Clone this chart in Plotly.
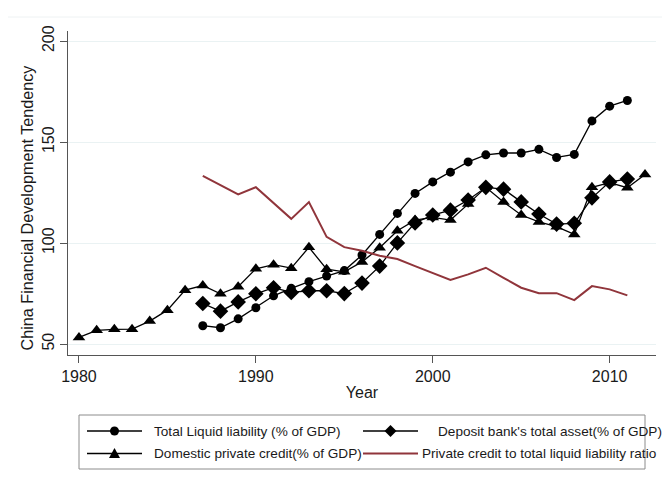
import plotly.graph_objects as go

# ---- data (China financial development indicators) ----
years_a = list(range(1987, 2012))          # 1987-2011
years_pc = list(range(1980, 2013))         # 1980-2012

liquid_liability = [59.1, 58.1, 62.5, 68.0, 73.9, 77.6, 80.9, 83.7, 86.4, 94.1,
                    104.3, 114.7, 124.6, 130.3, 135.1, 140.2, 143.7, 144.6, 144.6,
                    146.4, 142.4, 143.9, 160.5, 167.8, 170.6]
deposit_assets = [70.1, 66.3, 70.9, 74.9, 77.9, 75.6, 76.4, 76.4, 75.0, 80.2,
                  88.6, 100.1, 110.0, 113.9, 116.3, 121.3, 127.6, 126.7, 120.4,
                  114.4, 109.4, 109.8, 122.4, 130.3, 131.7]
private_credit = [53.3, 56.8, 57.3, 57.4, 61.4, 66.8, 76.7, 79.0, 74.9, 78.4,
                  87.3, 89.3, 87.6, 97.9, 87.1, 85.8, 90.7, 97.7, 106.1, 111.4,
                  112.7, 111.4, 119.3, 127.6, 120.4, 113.9, 110.5, 108.1, 104.3,
                  127.6, 129.9, 127.4, 134.0]
credit_ratio = [133.3, 128.7, 124.1, 127.7, 120.0, 112.0, 120.3, 103.1, 98.0, 96.2,
                93.7, 92.1, 88.6, 85.3, 81.8, 84.5, 87.8, 82.8, 77.9, 75.2, 75.2,
                71.8, 78.7, 77.1, 74.1]

labels = ["Total Liquid liability (% of GDP)",
          "Deposit bank's total asset(% of GDP)",
          "Domestic private credit(% of GDP)",
          "Private credit to total liquid liability ratio"]

x_ticks = [1980, 1990, 2000, 2010]
y_ticks = [50, 100, 150, 200]
y_title = "China Financial Development Tendency"

# ---- styling ----
W, H = 662, 487
ML, MR, MT, MB = 68, 6, 31, 132
BLACK = "#000000"
RED = "#90353B"
FONT = "Liberation Sans, Arial, sans-serif"

fig = go.Figure()

fig.add_trace(go.Scatter(x=years_a, y=liquid_liability, mode="lines+markers",
                         name=labels[0], line=dict(color=BLACK, width=1.3),
                         marker=dict(symbol="circle", size=9, color=BLACK)))
fig.add_trace(go.Scatter(x=years_a, y=deposit_assets, mode="lines+markers",
                         name=labels[1], line=dict(color=BLACK, width=1.3),
                         marker=dict(symbol="diamond", size=12, color=BLACK)))
fig.add_trace(go.Scatter(x=years_pc, y=private_credit, mode="lines+markers",
                         name=labels[2], line=dict(color=BLACK, width=1.3),
                         marker=dict(symbol="triangle-up", size=11, color=BLACK)))
fig.add_trace(go.Scatter(x=years_a, y=credit_ratio, mode="lines",
                         name=labels[3], line=dict(color=RED, width=2)))

# ---- hand-built legend box below the plot (pixel layout -> paper coords) ----
pw, ph = W - ML - MR, H - MT - MB


def px(xp):
    return (xp - ML) / pw


def py(yp):
    return (H - MB - yp) / ph


shapes = []
annotations = []

# faint outer rule along the top of the graph region
shapes.append(dict(type="line", xref="paper", yref="paper",
                   x0=px(8), x1=px(662), y0=py(17), y1=py(17),
                   line=dict(color="#EEF2F3", width=1)))

# legend frame
shapes.append(dict(type="rect", xref="paper", yref="paper",
                   x0=px(79), x1=px(645), y0=py(415), y1=py(469),
                   line=dict(color="#8C8C8C", width=1), fillcolor="rgba(0,0,0,0)"))

legend_items = [
    # (label, sample x0, sample x1, row y, text x, marker, colour, width)
    (labels[0], 87, 142, 431, 152, "circle", BLACK, 1.3),
    (labels[1], 363, 418, 431, 436, "diamond", BLACK, 1.3),
    (labels[2], 87, 142, 453.5, 152, "triangle", BLACK, 1.3),
    (labels[3], 363, 418, 453.5, 420, None, RED, 2),
]

for text, sx0, sx1, ry, tx, mk, col, lw in legend_items:
    shapes.append(dict(type="line", xref="paper", yref="paper",
                       x0=px(sx0), x1=px(sx1), y0=py(ry), y1=py(ry),
                       line=dict(color=col, width=lw)))
    cx = (sx0 + sx1) / 2
    common = dict(xref="paper", yref="paper", xsizemode="pixel", ysizemode="pixel",
                  xanchor=px(cx), yanchor=py(ry), fillcolor=BLACK,
                  line=dict(color=BLACK, width=0))
    if mk == "circle":
        shapes.append(dict(type="circle", x0=-4.5, x1=4.5, y0=-4.5, y1=4.5, **common))
    elif mk == "diamond":
        shapes.append(dict(type="path", path="M 0 6 L 6 0 L 0 -6 L -6 0 Z", **common))
    elif mk == "triangle":
        shapes.append(dict(type="path", path="M -5.5 -4.5 L 5.5 -4.5 L 0 5.5 Z", **common))
    annotations.append(dict(text=text, xref="paper", yref="paper",
                            x=px(tx), y=py(ry), xanchor="left", yanchor="middle",
                            showarrow=False,
                            font=dict(family=FONT, size=13.6, color="#1a1a1a")))

# y-axis title, set slightly below the plot's vertical centre
annotations.append(dict(text=y_title, xref="paper", yref="paper",
                        x=px(26.5), y=py(208), xanchor="center", yanchor="middle",
                        textangle=-90, showarrow=False,
                        font=dict(family=FONT, size=16.2, color="#1a1a1a")))

fig.update_layout(
    width=W, height=H,
    margin=dict(l=ML, r=MR, t=MT, b=MB, pad=0),
    paper_bgcolor="white", plot_bgcolor="white",
    showlegend=False,
    font=dict(family=FONT, size=16, color="#1a1a1a"),
    shapes=shapes, annotations=annotations,
    xaxis=dict(range=[1979.38, 2012.62], tickvals=x_ticks, ticks="outside",
               ticklen=7, tickcolor="#555555", showline=True, linecolor="#555555",
               linewidth=1, showgrid=False, zeroline=False,
               tickfont=dict(size=16),
               title=dict(text="Year", font=dict(size=16), standoff=2)),
    yaxis=dict(range=[44.6, 205], tickvals=y_ticks, ticks="outside",
               ticklen=7, tickcolor="#555555", showline=True, linecolor="#555555",
               linewidth=1, showgrid=True, gridcolor="#EAF2F3", gridwidth=1,
               zeroline=False, tickangle=-90, tickfont=dict(size=16)),
)

fig.write_html("out.html")
